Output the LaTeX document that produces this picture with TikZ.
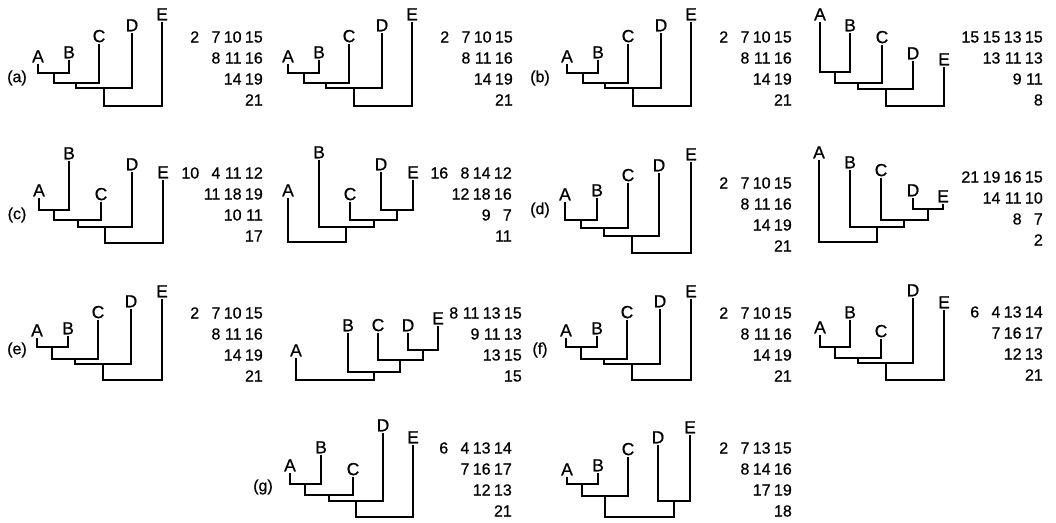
\documentclass[tikz,border=0pt]{standalone}
\usepackage{fontspec}
\setmainfont{Liberation Sans}
\newfontfamily\escaneo{Liberation Sans}[FakeBold=0.7]
\usepackage{array}
\usepackage{tikz}
\setlength{\tabcolsep}{1.6pt}

\begin{document}
\begin{tikzpicture}[x=1pt,y=-1pt,
  taxon/.style={anchor=south,inner sep=1.5pt,font=\escaneo\fontsize{17.5}{18}\selectfont},
  rama/.style={line width=1.8pt},
  dist/.style={anchor=base east,inner sep=0pt,font=\escaneo\fontsize{16}{21}\selectfont},
  panel/.style={inner sep=0pt,font=\escaneo\fontsize{16}{18}\selectfont}]
\useasboundingbox (0,0) rectangle (1056,522);

% (a) izquierda
\node[panel] (pa) at (17,78) {(a)};
\node[taxon] (a1A) at (38,64) {A};
\node[taxon] (a1B) at (69,60) {B};
\node[taxon] (a1C) at (99,44) {C};
\node[taxon] (a1D) at (132,33) {D};
\node[taxon] (a1E) at (162,22) {E};
\coordinate (a1ab) at (54,73);
\coordinate (a1abc) at (76,83);
\coordinate (a1abcd) at (104,88);
\coordinate (a1r) at (133,106);
\draw[rama] (a1A.south) |- (a1ab) -| (a1B.south) (a1ab) |- (a1abc) -| (a1C.south)
  (a1abc) |- (a1abcd) -| (a1D.south) (a1abcd) |- (a1r) -| (a1E.south);
\node[dist] (a1d) at (263,42.5) {\begin{tabular}[t]{@{}*{4}{>{\raggedleft\arraybackslash}p{18pt}}@{}}2&7&10&15\\&8&11&16\\&&14&19\\&&&21\end{tabular}};

% (a) derecha
\node[taxon] (a2A) at (288,64) {A};
\node[taxon] (a2B) at (319,60) {B};
\node[taxon] (a2C) at (349,44) {C};
\node[taxon] (a2D) at (382,33) {D};
\node[taxon] (a2E) at (412,22) {E};
\coordinate (a2ab) at (304,73);
\coordinate (a2abc) at (326,83);
\coordinate (a2abcd) at (354,88);
\coordinate (a2r) at (383,106);
\draw[rama] (a2A.south) |- (a2ab) -| (a2B.south) (a2ab) |- (a2abc) -| (a2C.south)
  (a2abc) |- (a2abcd) -| (a2D.south) (a2abcd) |- (a2r) -| (a2E.south);
\node[dist] (a2d) at (513,42.5) {\begin{tabular}[t]{@{}*{4}{>{\raggedleft\arraybackslash}p{18pt}}@{}}2&7&10&15\\&8&11&16\\&&14&19\\&&&21\end{tabular}};

% (b) izquierda
\node[panel] (pb) at (540,78) {(b)};
\node[taxon] (b1A) at (567,64) {A};
\node[taxon] (b1B) at (598,60) {B};
\node[taxon] (b1C) at (628,44) {C};
\node[taxon] (b1D) at (661,33) {D};
\node[taxon] (b1E) at (691,22) {E};
\coordinate (b1ab) at (583,73);
\coordinate (b1abc) at (605,83);
\coordinate (b1abcd) at (633,88);
\coordinate (b1r) at (662,106);
\draw[rama] (b1A.south) |- (b1ab) -| (b1B.south) (b1ab) |- (b1abc) -| (b1C.south)
  (b1abc) |- (b1abcd) -| (b1D.south) (b1abcd) |- (b1r) -| (b1E.south);
\node[dist] (b1d) at (792,42.5) {\begin{tabular}[t]{@{}*{4}{>{\raggedleft\arraybackslash}p{18pt}}@{}}2&7&10&15\\&8&11&16\\&&14&19\\&&&21\end{tabular}};

% (b) derecha
\node[taxon] (b2A) at (820,22) {A};
\node[taxon] (b2B) at (850,33) {B};
\node[taxon] (b2C) at (882,45) {C};
\node[taxon] (b2D) at (913,61) {D};
\node[taxon] (b2E) at (944,67) {E};
\coordinate (b2ab) at (835,72);
\coordinate (b2abc) at (858,83);
\coordinate (b2abcd) at (886,89);
\coordinate (b2r) at (915,106);
\draw[rama] (b2A.south) |- (b2ab) -| (b2B.south) (b2ab) |- (b2abc) -| (b2C.south)
  (b2abc) |- (b2abcd) -| (b2D.south) (b2abcd) |- (b2r) -| (b2E.south);
\node[dist] (b2d) at (1043,42.5) {\begin{tabular}[t]{@{}*{4}{>{\raggedleft\arraybackslash}p{18pt}}@{}}15&15&13&15\\&13&11&13\\&&9&11\\&&&8\end{tabular}};

% (c) izquierda
\node[panel] (pc) at (17,215) {(c)};
\node[taxon] (c1A) at (39,198) {A};
\node[taxon] (c1B) at (69,161) {B};
\node[taxon] (c1C) at (101,202) {C};
\node[taxon] (c1D) at (132,172) {D};
\node[taxon] (c1E) at (163,180) {E};
\coordinate (c1ab) at (54,210);
\coordinate (c1abc) at (78,220);
\coordinate (c1abcd) at (105,227);
\coordinate (c1r) at (134,243);
\draw[rama] (c1A.south) |- (c1ab) -| (c1B.south) (c1ab) |- (c1abc) -| (c1C.south)
  (c1abc) |- (c1abcd) -| (c1D.south) (c1abcd) |- (c1r) -| (c1E.south);
\node[dist] (c1d) at (263,178.5) {\begin{tabular}[t]{@{}*{4}{>{\raggedleft\arraybackslash}p{18pt}}@{}}10&4&11&12\\&11&18&19\\&&10&11\\&&&17\end{tabular}};

% (c) derecha
\node[taxon] (c2A) at (288,198) {A};
\node[taxon] (c2B) at (319,160) {B};
\node[taxon] (c2C) at (350,202) {C};
\node[taxon] (c2D) at (381,172) {D};
\node[taxon] (c2E) at (413,180) {E};
\coordinate (c2de) at (397,210);
\coordinate (c2cde) at (374,220);
\coordinate (c2bcde) at (346,227);
\coordinate (c2r) at (317,242);
\draw[rama] (c2D.south) |- (c2de) -| (c2E.south) (c2C.south) |- (c2cde) -| (c2de)
  (c2B.south) |- (c2bcde) -| (c2cde) (c2A.south) |- (c2r) -| (c2bcde);
\node[dist] (c2d) at (512,178.5) {\begin{tabular}[t]{@{}*{4}{>{\raggedleft\arraybackslash}p{18pt}}@{}}16&8&14&12\\&12&18&16\\&&9&7\\&&&11\end{tabular}};

% (d) izquierda
\node[panel] (pd) at (540,210) {(d)};
\node[taxon] (d1A) at (565,202) {A};
\node[taxon] (d1B) at (597,198) {B};
\node[taxon] (d1C) at (628,183) {C};
\node[taxon] (d1D) at (659,173) {D};
\node[taxon] (d1E) at (691,162) {E};
\coordinate (d1ab) at (581,220);
\coordinate (d1abc) at (604,228);
\coordinate (d1abcd) at (632,236);
\coordinate (d1r) at (661,253);
\draw[rama] (d1A.south) |- (d1ab) -| (d1B.south) (d1ab) |- (d1abc) -| (d1C.south)
  (d1abc) |- (d1abcd) -| (d1D.south) (d1abcd) |- (d1r) -| (d1E.south);
\node[dist] (d1d) at (792,188.5) {\begin{tabular}[t]{@{}*{4}{>{\raggedleft\arraybackslash}p{18pt}}@{}}2&7&10&15\\&8&11&16\\&&14&19\\&&&21\end{tabular}};

% (d) derecha
\node[taxon] (d2A) at (819,160) {A};
\node[taxon] (d2B) at (850,170) {B};
\node[taxon] (d2C) at (881,178) {C};
\node[taxon] (d2D) at (913,198) {D};
\node[taxon] (d2E) at (943,204) {E};
\coordinate (d2de) at (928,209);
\coordinate (d2cde) at (904,220);
\coordinate (d2bcde) at (877,227);
\coordinate (d2r) at (848,242);
\draw[rama] (d2D.south) |- (d2de) -| (d2E.south) (d2C.south) |- (d2cde) -| (d2de)
  (d2B.south) |- (d2bcde) -| (d2cde) (d2A.south) |- (d2r) -| (d2bcde);
\node[dist] (d2d) at (1043,182.5) {\begin{tabular}[t]{@{}*{4}{>{\raggedleft\arraybackslash}p{18pt}}@{}}21&19&16&15\\&14&11&10\\&&8&7\\&&&2\end{tabular}};

% (e) izquierda
\node[panel] (pe) at (17,350) {(e)};
\node[taxon] (e1A) at (37,338) {A};
\node[taxon] (e1B) at (68,336) {B};
\node[taxon] (e1C) at (98,320) {C};
\node[taxon] (e1D) at (131,309) {D};
\node[taxon] (e1E) at (162,299) {E};
\coordinate (e1ab) at (52,347);
\coordinate (e1abc) at (75,359);
\coordinate (e1abcd) at (103,364);
\coordinate (e1r) at (132,380);
\draw[rama] (e1A.south) |- (e1ab) -| (e1B.south) (e1ab) |- (e1abc) -| (e1C.south)
  (e1abc) |- (e1abcd) -| (e1D.south) (e1abcd) |- (e1r) -| (e1E.south);
\node[dist] (e1d) at (263,318.5) {\begin{tabular}[t]{@{}*{4}{>{\raggedleft\arraybackslash}p{18pt}}@{}}2&7&10&15\\&8&11&16\\&&14&19\\&&&21\end{tabular}};

% (e) derecha
\node[taxon] (e2A) at (296,358) {A};
\node[taxon] (e2B) at (348,333) {B};
\node[taxon] (e2C) at (378,333) {C};
\node[taxon] (e2D) at (408,333) {D};
\node[taxon] (e2E) at (438,326) {E};
\coordinate (e2de) at (423,350);
\coordinate (e2cde) at (400,360);
\coordinate (e2bcde) at (374,372);
\coordinate (e2r) at (335,380);
\draw[rama] (e2D.south) |- (e2de) -| (e2E.south) (e2C.south) |- (e2cde) -| (e2de)
  (e2B.south) |- (e2bcde) -| (e2cde) (e2A.south) |- (e2r) -| (e2bcde);
\node[dist] (e2d) at (522,318.5) {\begin{tabular}[t]{@{}*{4}{>{\raggedleft\arraybackslash}p{18pt}}@{}}8&11&13&15\\&9&11&13\\&&13&15\\&&&15\end{tabular}};

% (f) izquierda
\node[panel] (pf) at (540,350) {(f)};
\node[taxon] (f1A) at (566,338) {A};
\node[taxon] (f1B) at (597,336) {B};
\node[taxon] (f1C) at (627,320) {C};
\node[taxon] (f1D) at (660,309) {D};
\node[taxon] (f1E) at (691,299) {E};
\coordinate (f1ab) at (581,347);
\coordinate (f1abc) at (604,359);
\coordinate (f1abcd) at (632,364);
\coordinate (f1r) at (661,380);
\draw[rama] (f1A.south) |- (f1ab) -| (f1B.south) (f1ab) |- (f1abc) -| (f1C.south)
  (f1abc) |- (f1abcd) -| (f1D.south) (f1abcd) |- (f1r) -| (f1E.south);
\node[dist] (f1d) at (792,318.5) {\begin{tabular}[t]{@{}*{4}{>{\raggedleft\arraybackslash}p{18pt}}@{}}2&7&10&15\\&8&11&16\\&&14&19\\&&&21\end{tabular}};

% (f) derecha
\node[taxon] (f2A) at (820,335) {A};
\node[taxon] (f2B) at (850,320) {B};
\node[taxon] (f2C) at (881,339) {C};
\node[taxon] (f2D) at (913,298) {D};
\node[taxon] (f2E) at (944,310) {E};
\coordinate (f2ab) at (835,347);
\coordinate (f2abc) at (858,358);
\coordinate (f2abcd) at (886,363);
\coordinate (f2r) at (915,380);
\draw[rama] (f2A.south) |- (f2ab) -| (f2B.south) (f2ab) |- (f2abc) -| (f2C.south)
  (f2abc) |- (f2abcd) -| (f2D.south) (f2abcd) |- (f2r) -| (f2E.south);
\node[dist] (f2d) at (1043,317.5) {\begin{tabular}[t]{@{}*{4}{>{\raggedleft\arraybackslash}p{18pt}}@{}}6&4&13&14\\&7&16&17\\&&12&13\\&&&21\end{tabular}};

% (g) izquierda
\node[panel] (pg) at (263,487) {(g)};
\node[taxon] (g1A) at (290,473) {A};
\node[taxon] (g1B) at (321,455) {B};
\node[taxon] (g1C) at (353,477) {C};
\node[taxon] (g1D) at (383,433) {D};
\node[taxon] (g1E) at (413,445) {E};
\coordinate (g1ab) at (305,484);
\coordinate (g1abc) at (329,495);
\coordinate (g1abcd) at (356,501);
\coordinate (g1r) at (384,517);
\draw[rama] (g1A.south) |- (g1ab) -| (g1B.south) (g1ab) |- (g1abc) -| (g1C.south)
  (g1abc) |- (g1abcd) -| (g1D.south) (g1abcd) |- (g1r) -| (g1E.south);
\node[dist] (g1d) at (512,453.5) {\begin{tabular}[t]{@{}*{4}{>{\raggedleft\arraybackslash}p{18pt}}@{}}6&4&13&14\\&7&16&17\\&&12&13\\&&&21\end{tabular}};

% (g) derecha
\node[taxon] (g2A) at (567,477) {A};
\node[taxon] (g2B) at (598,473) {B};
\node[taxon] (g2C) at (628,457) {C};
\node[taxon] (g2D) at (658,445) {D};
\node[taxon] (g2E) at (690,435) {E};
\coordinate (g2ab) at (582,484);
\coordinate (g2abc) at (605,496);
\coordinate (g2de) at (674,501);
\coordinate (g2r) at (640,517);
\draw[rama] (g2A.south) |- (g2ab) -| (g2B.south) (g2ab) |- (g2abc) -| (g2C.south)
  (g2D.south) |- (g2de) -| (g2E.south) (g2abc) |- (g2r) -| (g2de);
\node[dist] (g2d) at (792,453.5) {\begin{tabular}[t]{@{}*{4}{>{\raggedleft\arraybackslash}p{18pt}}@{}}2&7&13&15\\&8&14&16\\&&17&19\\&&&18\end{tabular}};
\end{tikzpicture}
\end{document}
